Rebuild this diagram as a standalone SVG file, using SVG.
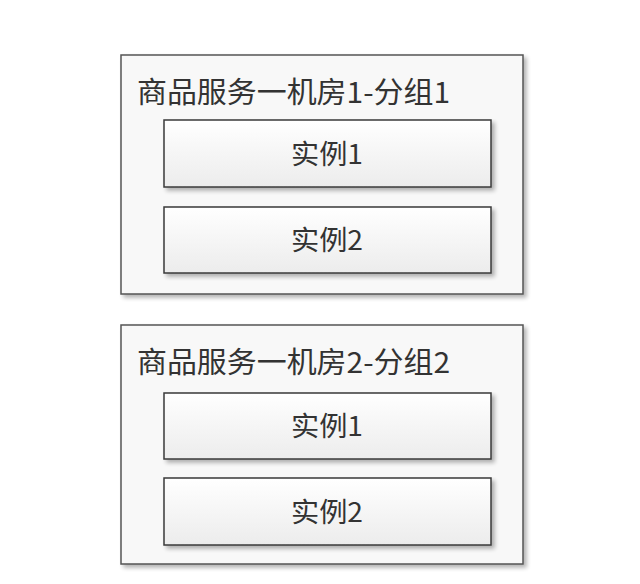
<svg xmlns="http://www.w3.org/2000/svg" width="640" height="584" viewBox="0 0 640 584">
<defs>
<linearGradient id="gi" x1="0" y1="0" x2="0" y2="1">
<stop offset="0" stop-color="#ffffff"/>
<stop offset="1" stop-color="#ececec"/>
</linearGradient>
<filter id="sh" x="-5%" y="-5%" width="115%" height="120%">
<feGaussianBlur in="SourceAlpha" stdDeviation="2"/>
<feOffset dx="3" dy="3"/>
<feComponentTransfer><feFuncA type="linear" slope="0.3"/></feComponentTransfer>
<feMerge><feMergeNode/><feMergeNode in="SourceGraphic"/></feMerge>
</filter>
</defs>
<style>
.outer{fill:#f8f8f8;stroke:#555;stroke-width:1.5}
.inner{fill:url(#gi);stroke:#3a3a3a;stroke-width:1.5}
.title{font-family:"Noto Sans CJK SC","Noto Sans",sans-serif;font-size:29px;fill:#333}
.lbl{font-family:"Noto Sans CJK SC","Noto Sans",sans-serif;font-size:27px;fill:#333;text-anchor:middle}
</style>
<rect width="640" height="584" fill="#ffffff"/>
<g id="group1">
<rect class="outer" x="121" y="55" width="402" height="239" filter="url(#sh)"/>
<text class="title" x="137" y="103" textLength="313" lengthAdjust="spacingAndGlyphs">商品服务一机房1-分组1</text>
</g>
<g id="g1-inst1">
<rect class="inner" x="164" y="120" width="327" height="67" filter="url(#sh)"/>
<text class="lbl" x="327" y="164" textLength="72" lengthAdjust="spacingAndGlyphs">实例1</text>
</g>
<g id="g1-inst2">
<rect class="inner" x="164" y="207" width="327" height="66" filter="url(#sh)"/>
<text class="lbl" x="327" y="250" textLength="72" lengthAdjust="spacingAndGlyphs">实例2</text>
</g>
<g id="group2">
<rect class="outer" x="121" y="325" width="402" height="239" filter="url(#sh)"/>
<text class="title" x="137" y="373" textLength="313" lengthAdjust="spacingAndGlyphs">商品服务一机房2-分组2</text>
</g>
<g id="g2-inst1">
<rect class="inner" x="164" y="393" width="327" height="66" filter="url(#sh)"/>
<text class="lbl" x="327" y="436" textLength="72" lengthAdjust="spacingAndGlyphs">实例1</text>
</g>
<g id="g2-inst2">
<rect class="inner" x="164" y="478" width="327" height="67" filter="url(#sh)"/>
<text class="lbl" x="327" y="522" textLength="72" lengthAdjust="spacingAndGlyphs">实例2</text>
</g>
<g id="connectors"/>
</svg>
